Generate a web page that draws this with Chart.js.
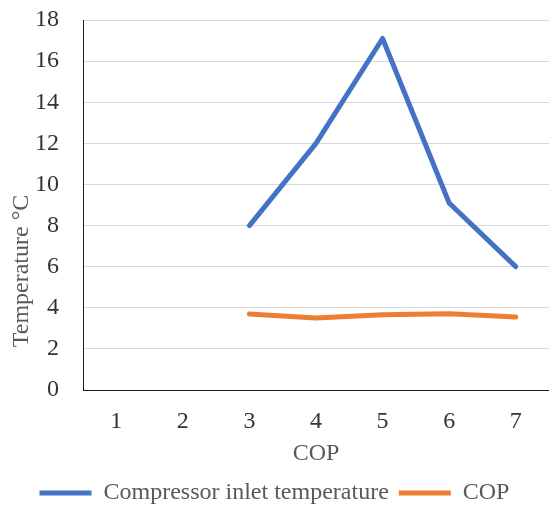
<!DOCTYPE html>
<html>
<head>
<meta charset="utf-8">
<script src="https://cdn.jsdelivr.net/npm/chart.js@4.4.0/dist/chart.umd.min.js"></script>
<style>
  html, body { margin: 0; padding: 0; background: #fff; }
  #wrap { width: 549px; height: 507px; }
</style>
</head>
<body>
<div id="wrap"><canvas id="chart" width="549" height="507"></canvas></div>
<script>
// x categories
const labels = ['1', '2', '3', '4', '5', '6', '7'];
// compressor inlet temperature (°C), no data for 1 and 2
const inletTemp = [null, null, 8, 12, 17.1, 9.1, 6.0];
// COP values
const cop = [null, null, 3.7, 3.5, 3.66, 3.71, 3.55];

const yTitle = 'Temperature °C';
const serif = "'Liberation Serif', 'Times New Roman', serif";

// y title sits lower than the axis centre in the original, so draw it by hand
const yTitlePlugin = {
  id: 'yTitle',
  afterDraw(chart) {
    const ctx = chart.ctx;
    ctx.save();
    ctx.translate(22, 271);
    ctx.rotate(-Math.PI / 2);
    ctx.font = '24px ' + serif;
    ctx.fillStyle = '#595959';
    ctx.textAlign = 'center';
    ctx.textBaseline = 'middle';
    ctx.fillText(yTitle, 0, 0);
    ctx.restore();
  }
};

new Chart(document.getElementById('chart'), {
  type: 'line',
  data: {
    labels: labels,
    datasets: [
      {
        label: 'Compressor inlet temperature',
        data: inletTemp,
        borderColor: '#4472C4',
        backgroundColor: '#4472C4',
        borderWidth: 5,
        borderCapStyle: 'round',
        borderJoinStyle: 'round',
        pointRadius: 0,
        tension: 0
      },
      {
        label: 'COP',
        data: cop,
        borderColor: '#ED7D31',
        backgroundColor: '#ED7D31',
        borderWidth: 5,
        borderCapStyle: 'round',
        borderJoinStyle: 'round',
        pointRadius: 0,
        tension: 0
      }
    ]
  },
  plugins: [yTitlePlugin],
  options: {
    responsive: false,
    animation: false,
    layout: { padding: { left: 0, right: 0, top: 20, bottom: -8 } },
    plugins: {
      legend: {
        position: 'bottom',
        labels: {
          usePointStyle: true,
          pointStyle: 'line',
          pointStyleWidth: 52,
          boxHeight: 5,
          padding: 10,
          color: '#595959',
          font: { family: serif, size: 24 }
        }
      },
      tooltip: { enabled: false }
    },
    scales: {
      x: {
        offset: true,
        grid: { display: false },
        border: { display: true, color: '#1a1a1a', width: 1 },
        ticks: { color: '#333', font: { family: serif, size: 24 }, padding: 9 },
        title: {
          display: true,
          text: 'COP',
          color: '#595959',
          font: { family: serif, size: 24 },
          padding: { top: 4, bottom: 3 }
        },
        afterFit: (axis) => { axis.height = 81; }
      },
      y: {
        min: 0,
        max: 18,
        ticks: { stepSize: 2, color: '#333', font: { family: serif, size: 24 }, padding: 2 },
        grid: {
          color: '#d9d9d9',
          lineWidth: 1,
          drawTicks: true,
          tickLength: 22,
          tickColor: 'rgba(0,0,0,0)'
        },
        border: { display: true, color: '#1a1a1a', width: 1 },
        title: { display: false },
        afterFit: (axis) => { axis.width = 83; }
      }
    }
  }
});
</script>
</body>
</html>
